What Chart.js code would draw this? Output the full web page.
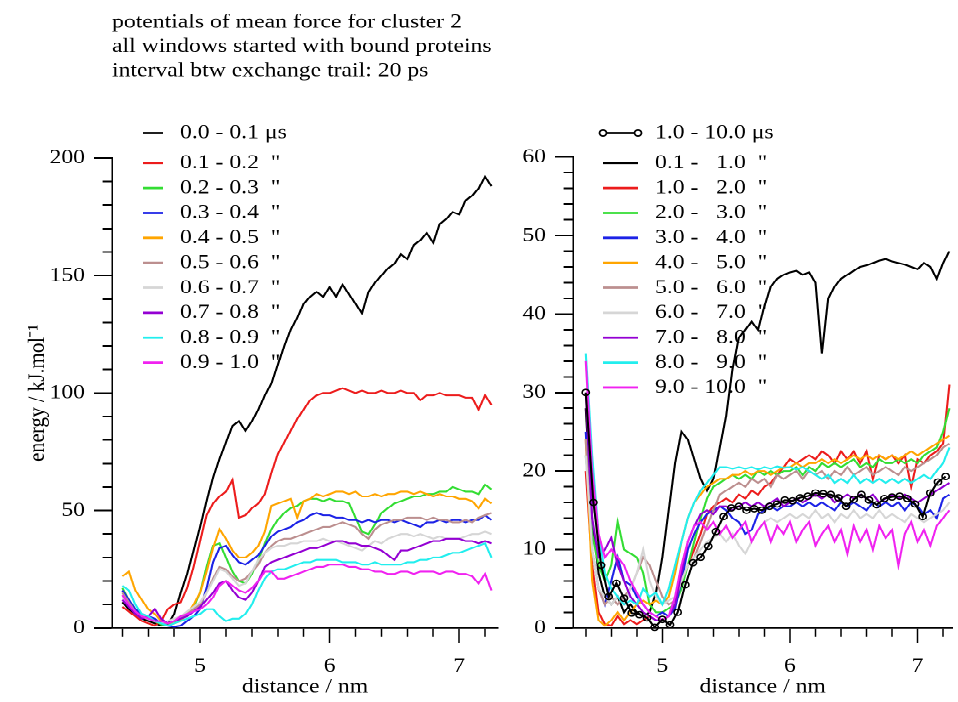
<!DOCTYPE html>
<html><head><meta charset="utf-8">
<script src="https://cdn.jsdelivr.net/npm/chart.js@4/dist/chart.umd.min.js"></script>
<style>
html,body{margin:0;padding:0;background:#fff;overflow:hidden;width:958px;height:702px;}
#wrap{position:absolute;left:0;top:0;width:958px;height:826px;transform:scaleY(0.85);transform-origin:0 0;overflow:hidden;}
canvas{position:absolute;left:0;top:0;}
</style></head><body>
<div id="wrap"><canvas id="leftChart" width="958" height="826"></canvas><canvas id="rightChart" width="958" height="826"></canvas></div>
<script>
// ---------------- data ----------------
const distance = [4.40,4.45,4.50,4.55,4.60,4.65,4.70,4.75,4.80,4.85,4.90,4.95,5.00,5.05,5.10,5.15,5.20,5.25,5.30,5.35,5.40,5.45,5.50,5.55,5.60,5.65,5.70,5.75,5.80,5.85,5.90,5.95,6.00,6.05,6.10,6.15,6.20,6.25,6.30,6.35,6.40,6.45,6.50,6.55,6.60,6.65,6.70,6.75,6.80,6.85,6.90,6.95,7.00,7.05,7.10,7.15,7.20,7.25];
const circleDistance = [4.40,4.46,4.52,4.58,4.64,4.70,4.76,4.82,4.88,4.94,5.00,5.06,5.12,5.18,5.24,5.30,5.36,5.42,5.48,5.54,5.60,5.66,5.72,5.78,5.84,5.90,5.96,6.02,6.08,6.14,6.20,6.26,6.32,6.38,6.44,6.50,6.56,6.62,6.68,6.74,6.80,6.86,6.92,6.98,7.04,7.10,7.16,7.22];

// left panel: 0.0 - 1.0 us in 0.1 us windows
const left00to01 = [11,8,6,4,3,2,1,1.5,6,15, 23,33,43,54,64,72,79,86,88,84, 88,93,99,104,112,120,127,132,138,141, 143,141,145,141,146,142,138,134,143,147, 150,153,155,159,157,163,165,168,164,172, 174,177,176,182,184,187,192,188];
const left01to02 = [9,7,5,3,2,1,3,8,10,11, 17,26,37,48,53,56,58,63,47,48, 51,53,57,66,74,79,84,89,93,97, 99,100,100,101,102,101,100,101,100,100, 101,100,100,101,100,100,97,99,99,100, 99,99,99,98,98,93,99,95];
const left02to03 = [17,12,8,5,4,3,1.5,1,2,4, 6,9,15,26,35,36,30,24,20,19, 23,29,36,42,46,49,51,52,54,55, 55,54,55,54,54,53,47,41,40,44, 49,51,53,54,55,56,56,57,57,58, 58,60,59,58,58,57,61,59];
const left03to04 = [16,12,8,6,5,4,2,1,0.5,1, 3,5,8,17,28,34,35,31,28,27, 29,31,35,39,41,42,43,45,46,48, 49,48,48,47,47,46,46,45,46,45, 46,46,45,46,45,44,43,45,45,46, 45,46,46,45,46,46,48,46];
const left04to05 = [22,24,16,12,8,6,3,2,2,3, 6,10,15,24,34,42,38,33,30,30, 32,35,41,52,53,54,55,47,54,55, 57,56,57,58,58,57,58,56,56,57, 56,57,57,58,58,57,58,57,56,57, 56,56,55,55,54,51,55,53];
const left05to06 = [15,11,7,5,4,3,2,2,3,4, 6,8,10,15,21,26,25,22,20,21, 24,27,32,35,37,38,38,39,40,41, 42,43,43,44,45,44,43,40,38,42, 44,45,46,46,47,47,47,46,47,46, 46,45,45,46,45,47,48,49];
const left06to07 = [13,10,7,5,4,3,2,3,4,5, 7,9,11,15,20,25,24,21,18,19, 24,29,32,34,35,35,36,36,37,37, 37,38,37,37,36,35,34,33,35,37, 36,38,39,40,40,39,40,39,38,39, 38,38,38,39,40,40,41,40];
const left07to08 = [12,9,6,4,5,8,4,2,3,4, 5,7,9,12,15,19,20,16,13,12, 15,20,26,28,29,30,31,32,33,34, 34,35,36,37,37,36,36,35,35,34, 33,31,29,33,33,34,35,36,37,37, 38,38,38,37,37,36,37,36];
const left08to09 = [18,16,10,6,5,3,2,1,2,3, 4,5,6,8,8,5,3,4,4,6, 10,16,21,24,25,25,26,27,28,28, 29,29,29,29,28,28,28,27,27,28, 27,27,27,27,28,28,29,29,30,30, 31,32,32,33,34,35,36,30];
const left09to10 = [14,10,7,5,4,3,3,2,3,5, 6,7,8,10,13,18,20,18,16,15, 17,20,24,24,21,21,22,23,24,25, 26,26,27,27,27,26,26,25,25,24, 24,23,23,24,24,23,24,24,24,23, 24,24,23,23,22,19,23,16];

// right panel: 1.0 - 10.0 us (circles, on circleDistance) and 1 us windows
const right1to10 = [30,16,8,4,5.7,3.8,1.9,1.7,1.3,0.1,1.1,0.4,2,5.5,8.3,9,10.4,12.3,14.2,15.3,15.5,15,15.2,15,15.5,15.8,16.3,16.2,16.6,16.8,17.2,17.1,17,16.6,15.5,16.4,17,16.3,15.7,16.5,16.7,16.8,16.5,15.8,14.2,17.2,18.6,19.3];
const right01to1 = [28,14,7,4,3,4,2,3,2,1.5, 2,4.5,9,15,21,25,24,21.5,19,17.5, 19,23,27,33,37,38,39,38,41,43.5, 44.5,45,45.3,45.5,45,45.3,44,35,42,43.5, 44.5,45,45.5,46,46.2,46.5,46.8,47,46.7,46.5, 46.3,46,45.7,46.5,46,44.5,46.5,48];
const right1to2 = [20,8,2,0.5,0.3,1.5,0.5,1,0.5,1, 1.5,1,1,1.5,3,5.5,8,10,12,14.5, 15.5,16,16.5,16,17,16.5,17.5,17,18,18.5, 19.5,20.5,21.5,21,21.5,22,21.5,22.5,22,21, 22.5,21.5,22.5,21,22.5,19,22,21.5,22,21, 22,18,21.5,21,22,22.5,23.5,31];
const right2to3 = [22,12,8,6,8,13.5,10,9.5,9,7, 3,2,2,2.5,3,5,8,11,14,16.5, 18,18.5,19,19.5,19,19.5,19,20,19.5,20, 19.5,20,20,20.5,19.5,20.5,20,21,20.5,21, 20.5,21,21.5,20.5,21,20.5,21.5,21,21,21.5, 21,21.5,21,22,22.5,23,25,28];
const right3to4 = [25,10,5,3,6,9,6,5.5,4,3, 2,1.5,2,1.5,2.5,6,10,12,13.5,14.5, 15,15.5,15,14,13.5,12,12.5,14.5,15,15.5, 15,15.5,15.5,16,15.5,16,15.5,16,15.5,15, 16,15.5,16,15.5,15,16,15.5,16,15.5,16, 15,16,15.5,14.5,15,14,16.5,17];
const right4to5 = [24,6,1,0.3,1,2,1,2,3,3.5, 3,3.5,3,4,7,11,14,16,17,18, 18.5,19,19,19.5,19.5,20,19.5,20,20,19.5, 20,20.5,20.5,21,20.5,21,21,21.5,21,21.5, 21,21.5,22,21.5,22,21.5,22,21.5,22,21.5, 22,22.5,22,22.5,23,23.5,24,24.5];
const right5to6 = [24,10,5,3,4,3,4,5,7,9, 8,6,4,3,3.5,6,8,9,11,13, 15,17,17.5,18,18.5,18,19,18.5,19,18, 19.5,19,19.5,20,19,20,19.5,20,19,20, 19.5,20.5,19.5,20,20.5,19.5,20,20.5,20,19.5, 20.5,20,20.5,21,21.5,22,23,23.5];
const right6to7 = [22,10,5,4,3,4,3,5,7,10, 6,4,3,3.5,4,6,8,9,10,11, 11.5,12,11,12,10.5,9.5,11,12.5,13.5,14, 13.5,14,14.5,14,14.5,14,15,14,14.5,13.5, 14.5,14,15,14,14.5,14,15,14,14.5,14, 13.5,14.5,14,13.5,14,14.5,15,16];
const right7to8 = [30,14,9,10,11.5,8,6,4,3,2, 1.5,1,1,1.5,3,7,11,13,14.5,15, 14.5,15.5,15.5,15,15.5,16,15.5,16,15.5,16, 16.5,15.5,16,16.5,16,16.5,17,16.5,17,16, 16.5,17,16.5,17,16.5,17,16,16.5,17,16.5, 17,16.5,16,16.5,17,17.5,18,18.5];
const right8to9 = [35,22,12,7,5,4,3,3.5,3,5, 4,4.5,3,5,8,11,14,16,17.5,18.5, 19.5,20.5,20.5,20.3,20.5,20.3,20.5,20.2,20.5,20.3, 20.6,20.4,20.5,20.2,20.5,20,19.5,19,19.5,18.5, 19,18.5,19.5,18.5,19,18.5,19,18.5,19,18.5, 19,18.5,19,19.5,19,20,21,23];
const right9to10 = [34,20,12,9,10,9,8,6,4.5,3, 2,1.5,1,1.5,4,8,11,13,13.5,12.5, 13.5,12,13,11.5,12.5,13.5,11,12.5,13.5,11, 13,12,13.5,11,12.5,13.5,10.5,12,13,11, 12.5,9.5,13,11,12.5,10,13,11.5,12.5,8, 12,13.5,11,12.5,10.5,13,14,15];

const leftLabels = ['0.0 - 0.1 \u03bcs','0.1 - 0.2  "','0.2 - 0.3  "','0.3 - 0.4  "','0.4 - 0.5  "','0.5 - 0.6  "','0.6 - 0.7  "','0.7 - 0.8  "','0.8 - 0.9  "','0.9 - 1.0  "'];
const rightLabels = ['1.0 - 10.0 \u03bcs','0.1 -   1.0  "','1.0 -   2.0  "','2.0 -   3.0  "','3.0 -   4.0  "','4.0 -   5.0  "','5.0 -   6.0  "','6.0 -   7.0  "','7.0 -   8.0  "','8.0 -   9.0  "','9.0 - 10.0  "'];
const leftTicksY = [0, 50, 100, 150, 200];
const rightTicksY = [0, 10, 20, 30, 40, 50, 60];
const ticksX = [5, 6, 7];
const titleLines = ['potentials of mean force for cluster 2', 'all windows started with bound proteins', 'interval btw exchange trail: 20 ps'];

// ---------------- styles ----------------
const S = 0.85;                       // vertical squeeze applied by CSS
const DPR = 2;
const FAMILY = "'Liberation Serif', 'Times New Roman', serif";
const FS = 23.7;
const FONT = {family: FAMILY, size: FS, lineHeight: 1.2, weight: 'normal'};
const colorsLeft = ['#000000','#ec1c1c','#33dd33','#1c22e6','#ffa500','#bc8f8f','#d6d6d6','#9400d3','#22eeee','#f022f0'];
const colorsRight = ['#000000','#000000','#ec1c1c','#33dd33','#1c22e6','#ffa500','#bc8f8f','#d6d6d6','#9400d3','#22eeee','#f022f0'];

function pts(xs, ys) { return xs.map((x, i) => ({x, y: ys[i]})); }
const near = (v, list) => list.some(t => Math.abs(v - t) < 1e-6);

function legendPlugin(cfg) {
  return {
    id: 'pmfLegend',
    afterDatasetsDraw(chart) {
      const ctx = chart.ctx;
      ctx.save();
      ctx.font = FS + 'px ' + FAMILY;
      ctx.textBaseline = 'middle';
      ctx.textAlign = 'left';
      chart.data.datasets.forEach((ds, i) => {
        const yRef = i === 0 ? cfg.first : cfg.second + (i - 1) * cfg.step;
        const y = yRef / S;
        ctx.strokeStyle = ds.borderColor;
        ctx.lineWidth = 2.8;
        ctx.beginPath(); ctx.moveTo(cfg.x0, y); ctx.lineTo(cfg.x1, y); ctx.stroke();
        if (ds.pointRadius > 0) {
          ctx.lineWidth = 1.8;
          [cfg.x0, cfg.x1].forEach(cx => { ctx.beginPath(); ctx.arc(cx, y, ds.pointRadius, 0, Math.PI * 2); ctx.fillStyle = '#fff'; ctx.fill(); ctx.stroke(); });
        }
        ctx.fillStyle = '#000';
        ctx.fillText(ds.label, cfg.textX, y);
      });
      ctx.restore();
    }
  };
}

function xScale(min, max) {
  return {
    type: 'linear', position: 'bottom', min, max,
    afterFit: s => { s.height = 826 - 628 / S; },
    border: {display: true, color: '#000', width: 1.8},
    grid: {
      drawOnChartArea: false, drawTicks: true, tickLength: 18, tickColor: '#000', tickWidth: 1.5,
      tickBorderDash: c => (c.tick && !near(c.tick.value, ticksX)) ? [9, 100] : []
    },
    ticks: {
      stepSize: 0.2, includeBounds: false, autoSkip: false, maxRotation: 0, minRotation: 0,
      padding: 12.5, color: '#000', font: FONT,
      callback: v => near(v, ticksX) ? String(Math.round(v)) : ''
    },
    title: {display: true, text: 'distance / nm', color: '#000', font: FONT, padding: {top: 0, bottom: 3.3}}
  };
}
function yScale(max, step, majors, width, title) {
  return {
    type: 'linear', position: 'left', min: 0, max,
    afterFit: s => { s.width = width; },
    border: {display: true, color: '#000', width: 1.5},
    grid: {
      drawOnChartArea: false, drawTicks: true, tickLength: 18, tickColor: '#000', tickWidth: 2,
      tickBorderDash: c => (c.tick && !near(c.tick.value, majors)) ? [0, 8.6, 10, 100] : []
    },
    ticks: {
      stepSize: step, autoSkip: false, padding: 9, color: '#000', font: FONT,
      callback: v => near(v, majors) ? String(v) : ''
    },
    title: title ? {display: true, text: title, color: '#000', font: FONT, padding: {top: 11.8, bottom: 0}} : {display: false}
  };
}

Chart.defaults.font.family = FAMILY;
Chart.defaults.color = '#000';

const leftSeries = [left00to01,left01to02,left02to03,left03to04,left04to05,left05to06,left06to07,left07to08,left08to09,left09to10];
const leftDatasets = leftSeries.map((vals, i) => ({
  label: leftLabels[i], data: pts(distance, vals), borderColor: colorsLeft[i],
  borderWidth: 2.1, pointRadius: 0, fill: false, tension: 0, clip: 4, order: 10 - i
}));

new Chart(document.getElementById('leftChart'), {
  type: 'line',
  data: {datasets: leftDatasets},
  options: {
    responsive: false, animation: false, devicePixelRatio: DPR,
    layout: {padding: {left: 12, right: 460, top: 0, bottom: 0}},
    scales: {x: xScale(4.32, 7.30), y: yScale(200, 10, leftTicksY, 100, 'energy / kJ.mol\u207b\u00b9')},
    plugins: {
      legend: {display: false}, tooltip: {enabled: false},
      title: {
        display: true, text: titleLines, align: 'start', fullSize: false, color: '#000',
        font: FONT, padding: {top: 12.3, bottom: (158 / S) - 3 * FS * 1.2 - 12.3}
      }
    }
  },
  plugins: [legendPlugin({first: 133, second: 163, step: 24.95, x0: 143, x1: 163, textX: 180})]
});

const rightSeries = [right01to1,right1to2,right2to3,right3to4,right4to5,right5to6,right6to7,right7to8,right8to9,right9to10];
const rightDatasets = [{
  label: rightLabels[0], data: pts(circleDistance, right1to10), borderColor: colorsRight[0],
  borderWidth: 2.1, pointRadius: 3.6, pointBorderWidth: 1.6, pointBorderColor: '#000',
  pointBackgroundColor: 'rgba(255,255,255,0)', fill: false, tension: 0, clip: 5, order: 0
}].concat(rightSeries.map((vals, i) => ({
  label: rightLabels[i + 1], data: pts(distance, vals), borderColor: colorsRight[i + 1],
  borderWidth: 2.1, pointRadius: 0, fill: false, tension: 0, clip: 4, order: 11 - i
})));

new Chart(document.getElementById('rightChart'), {
  type: 'line',
  data: {datasets: rightDatasets},
  options: {
    responsive: false, animation: false, devicePixelRatio: DPR,
    layout: {padding: {left: 493, right: 0, top: 157 / S, bottom: 0}},
    scales: {x: xScale(4.30, 7.273), y: yScale(60, 2, rightTicksY, 80, null)},
    plugins: {legend: {display: false}, tooltip: {enabled: false}, title: {display: false}}
  },
  plugins: [legendPlugin({first: 133, second: 163, step: 24.95, x0: 603, x1: 638, textX: 655})]
});
</script>
</body></html>
